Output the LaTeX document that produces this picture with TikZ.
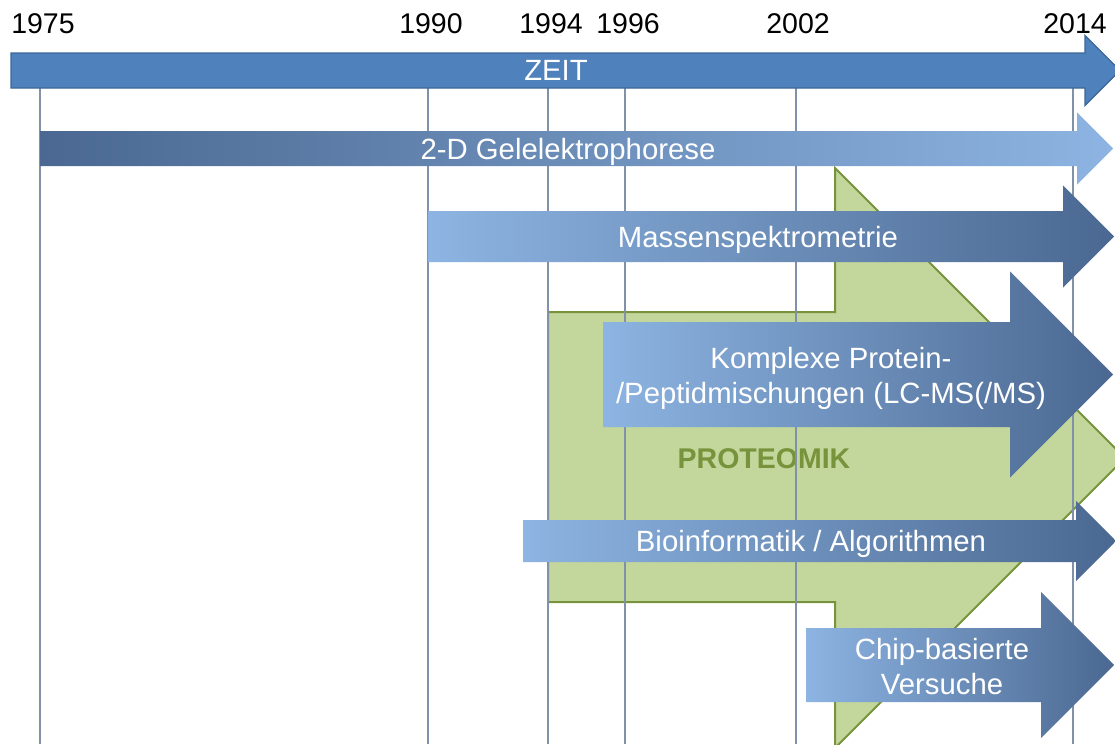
\documentclass[tikz,border=0pt]{standalone}
\usepackage{fontspec}
\setmainfont{Liberation Sans}
\definecolor{zeitblue}{HTML}{4F81BD}
\definecolor{zeitedge}{HTML}{3D6797}
\definecolor{gridline}{HTML}{8091A8}
\definecolor{lightblue}{HTML}{8DB4E2}
\definecolor{darkblue}{HTML}{4A6891}
\definecolor{protfill}{HTML}{C3D69B}
\definecolor{protedge}{HTML}{77933C}
\newcommand\twolines[2]{\begin{tabular}[t]{@{}c@{}}#1\\#2\end{tabular}}
\begin{document}
\begin{tikzpicture}[x=1pt,y=-1pt,
  year/.style={inner sep=0pt, anchor=base, text=black, font=\fontsize{28.5}{35}\selectfont},
  lbl/.style={inner sep=0pt, anchor=base, text=white, font=\fontsize{29.3}{35}\selectfont},
  yearline/.style={draw=gridline, line width=2pt},
  growing/.style={left color=lightblue, right color=darkblue},
  fading/.style={left color=darkblue, right color=lightblue}]
\useasboundingbox (0,0) rectangle (1115,744);
\clip (0,0) rectangle (1115,744);
\fill[white] (0,0) rectangle (1115,744);

% big green PROTEOMIK arrow
\filldraw[fill=protfill, draw=protedge, line width=2pt]
  (548,312) -- (835,312) -- (835,168) -- (1125,458) -- (835,748) -- (835,602) -- (548,602) -- cycle;
\node[inner sep=0pt, anchor=base, text=protedge, font=\fontsize{28.5}{35}\selectfont\bfseries]
  (prot) at (764,468) {PROTEOMIK};

% year grid lines
\foreach \x in {40,428,548,625,796,1073}
  \draw[yearline] (\x,88) -- (\x,744);

% year labels
\node[year] (y1975) at (43,33) {1975};
\node[year] (y1990) at (431,33) {1990};
\node[year] (y1994) at (551,33) {1994};
\node[year] (y1996) at (628,33) {1996};
\node[year] (y2002) at (798,33) {2002};
\node[year] (y2014) at (1075,33) {2014};

% time axis
\filldraw[fill=zeitblue, draw=zeitedge, line width=1.2pt]
  (11,53) -- (1085,53) -- (1085,35.5) -- (1120,70.5) -- (1085,105.5) -- (1085,88) -- (11,88) -- cycle;
\node[lbl] (zeit) at (556,80) {ZEIT};

% technology arrows
\shade[fading]
  (40,131) -- (1077,131) -- (1077,112.5) -- (1113,148.5) -- (1077,184.5) -- (1077,166) -- (40,166) -- cycle;
\node[lbl] (gel) at (568,159) {2-D Gelelektrophorese};

\shade[growing]
  (428,211) -- (1063,211) -- (1063,185.5) -- (1114,236.5) -- (1063,287.5) -- (1063,262) -- (428,262) -- cycle;
\node[lbl] (ms) at (758,247) {Massenspektrometrie};

\shade[growing]
  (603,322) -- (1010,322) -- (1010,271.5) -- (1113,374.5) -- (1010,477.5) -- (1010,427) -- (603,427) -- cycle;
\node[lbl] (lcms) at (831,368) {\twolines{Komplexe Protein-}{/Peptidmischungen (LC-MS(/MS)}};

\shade[growing]
  (523,520) -- (1076,520) -- (1076,501) -- (1116,541) -- (1076,581) -- (1076,562) -- (523,562) -- cycle;
\node[lbl] (bio) at (811,551) {Bioinformatik / Algorithmen};

\shade[growing]
  (806,628) -- (1041,628) -- (1041,592) -- (1114,665) -- (1041,738) -- (1041,702) -- (806,702) -- cycle;
\node[lbl] (chip) at (942,659) {\twolines{Chip-basierte}{Versuche}};
\end{tikzpicture}
\end{document}
